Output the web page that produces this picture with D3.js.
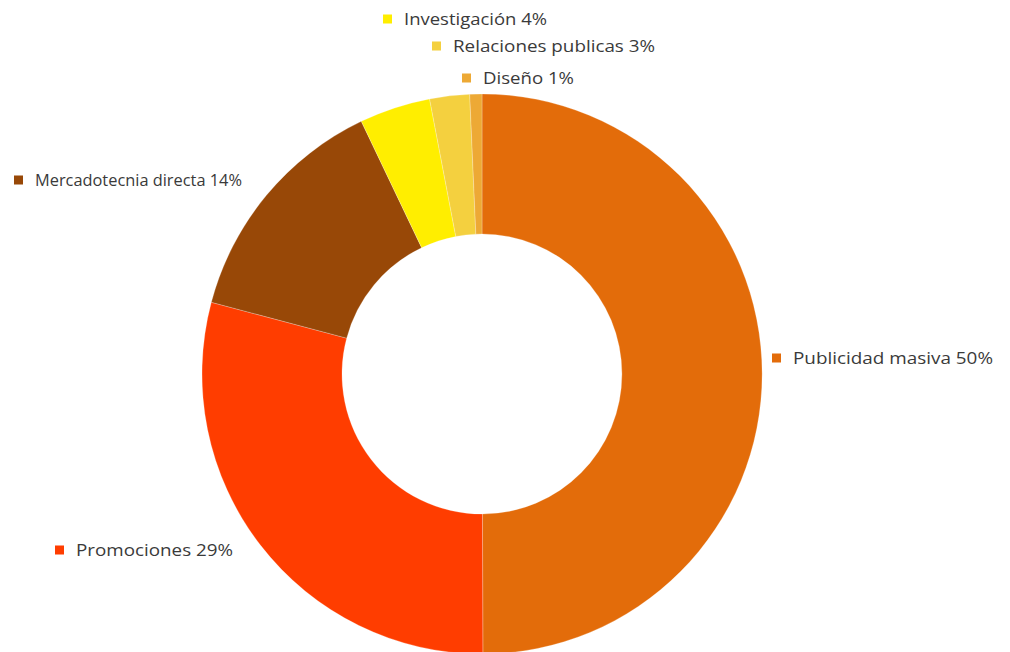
<!doctype html>
<html>
<head>
  <meta charset="utf-8">
  <title>Distribución</title>
  <script src="https://d3js.org/d3.v7.min.js"></script>
  <style>
    body { margin: 0; background: #fff; }
    .lbl { font-family: "Open Sans", sans-serif; font-size: 17px; fill: #3a3a3a; }
  </style>
</head>
<body>
  <div id="chart"></div>
  <script>
    // data (clockwise from 12 o'clock)
    var categories = ["Publicidad masiva", "Promociones", "Mercadotecnia directa", "Investigación", "Relaciones publicas", "Diseño"];
    var values = [50, 29.2, 13.8, 4.1, 2.3, 0.7];
    var pctLabels = ["50%", "29%", "14%", "4%", "3%", "1%"];
    var colors = ["#E36C0A", "#FF3D00", "#984807", "#FFEE00", "#F4D03F", "#EDA935"];

    // where each label sits (left edge of marker, vertical middle)
    var labelPos = [[772, 358], [55, 550], [14, 180], [383, 19], [432, 46], [462, 78]];
    var labelWidth = [200, 157, 207, 143, 202, 91];

    var width = 1010, height = 652;
    var cx = 482, cy = 374, outerR = 280, innerR = 140;

    var svg = d3.select("#chart").append("svg")
      .attr("width", width)
      .attr("height", height);

    var pie = d3.pie().sort(null).value(function(d) { return d; });
    var arc = d3.arc().innerRadius(innerR).outerRadius(outerR);

    var g = svg.append("g").attr("transform", "translate(" + cx + "," + cy + ")");

    g.selectAll("path")
      .data(pie(values))
      .enter()
      .append("path")
      .attr("d", arc)
      .attr("fill", function(d, i) { return colors[i]; })
      .attr("stroke", "#fff")
      .attr("stroke-opacity", 0.4)
      .attr("stroke-width", 0.6);

    var lg = svg.selectAll("g.lg")
      .data(categories)
      .enter()
      .append("g")
      .attr("class", "lg")
      .attr("transform", function(d, i) { return "translate(" + labelPos[i][0] + "," + labelPos[i][1] + ")"; });

    lg.append("rect")
      .attr("x", 0).attr("y", -4.5)
      .attr("width", 9).attr("height", 9)
      .attr("fill", function(d, i) { return colors[i]; });

    lg.append("text")
      .attr("class", "lbl")
      .attr("x", 21)
      .attr("dy", "0.35em")
      .attr("textLength", function(d, i) { return labelWidth[i]; })
      .attr("lengthAdjust", "spacingAndGlyphs")
      .text(function(d, i) { return d + " " + pctLabels[i]; });
  </script>
</body>
</html>
